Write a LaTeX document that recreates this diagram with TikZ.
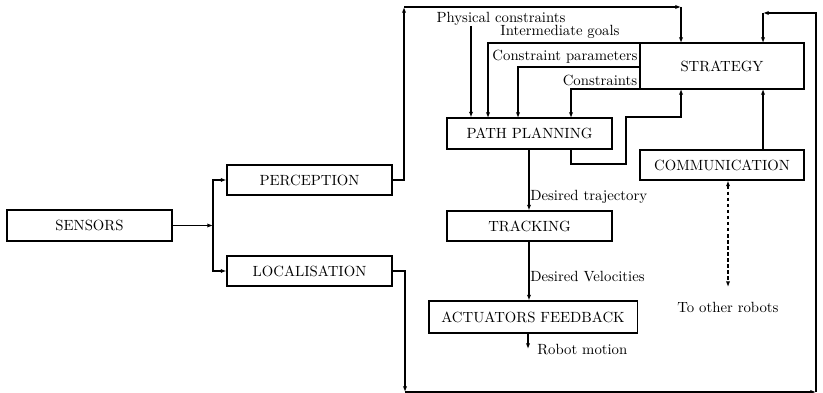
\documentclass[tikz,border=0pt]{standalone}
\usetikzlibrary{arrows.meta}
\begin{document}
\begin{tikzpicture}[x=0.025cm, y=-0.025cm,
  every node/.style={font=\fontsize{10.5pt}{12.6pt}\selectfont},
  box/.style={draw, line width=0.75pt, inner sep=0pt, rectangle},
  size/.style 2 args={minimum width=#1*0.7113pt, minimum height=#2*0.7113pt},
  conn/.style={line width=0.75pt},
  arr/.style={conn, -{Latex[length=4pt,width=3pt]}},
  lbl/.style={inner sep=0pt}]
\useasboundingbox (0,0) rectangle (823,393);

% blocks
\node[box, size={165}{31}] (sens) at (89.5,225.5) {SENSORS\hspace{19pt}};
\node[box, size={165}{30}] (perc) at (309.5,180) {PERCEPTION};
\node[box, size={165}{30}] (loc)  at (309.5,271) {LOCALISATION};
\node[box, size={164}{46}] (strat) at (722,66) {\raisebox{-5pt}{STRATEGY}};
\node[box, size={165}{31}] (pp) at (529.5,133.5) {PATH PLANNING};
\node[box, size={164}{30}] (comm) at (722,165) {COMMUNICATION};
\node[box, size={165}{30}] (track) at (529.5,226) {TRACKING};
\node[box, size={208}{32}] (act) at (533,317) {ACTUATORS FEEDBACK};

% free ends and corners
\coordinate (split) at (213,225.5);
\coordinate (pctop) at (471,26);
\coordinate (motion) at (528,349);
\coordinate (commlow) at (728,287);

% sensors to perception and localisation
\draw[arr] (sens.east) -- (split);
\draw[arr] (split) |- (perc.west);
\draw[arr] (split) |- (loc.west);

% perception up and over to the strategy
\draw[arr] (perc.east) -- (404,180) -- (404,7);
\draw[arr] (404,7) -- (681,7);
\draw[arr] (681,7) -- (681,43);

% localisation down, round and into the strategy from above
\draw[arr] (loc.east) -- (405,271) -- (405,392);
\draw[arr] (405,392) -- (816,392);
\draw[arr] (816,392) -- (816,13) -- (763,13);
\draw[arr] (763,13) -- (763,43);

% inputs of the path planning
\draw[arr] (pctop) -- (pctop |- pp.north);
\node[lbl] (physlbl) at (501,19) {Physical constraints};
\draw[arr] (640,43) -- (488,43) -- (488,118);
\node[lbl] (goallbl) at (560,32) {Intermediate goals};
\draw[arr] (640,67) -- (518,67) -- (518,118);
\node[lbl] (parlbl) at (565,57) {Constraint parameters};
\draw[arr] (640,89) -- (571,89) -- (571,118);
\node[lbl] (conlbl) at (600,80) {Constraints};

% path planning back to the strategy
\draw[arr] (571,149) -- (571,164) -- (626,164) -- (626,117) -- (681,117) -- (681,89);

% communication to the strategy
\draw[arr] (comm.north -| 763,0) -- (763,89);

% chain down to the actuators
\draw[arr] (pp.south -| 529,0) -- (track.north -| 529,0);
\node[lbl, anchor=west] (trajlbl) at (530,197) {Desired trajectory};
\draw[arr] (track.south -| 529,0) -- (act.north -| 529,0);
\node[lbl, anchor=west] (vellbl) at (530,277) {Desired Velocities};
\draw[arr] (act.south -| motion) -- (motion);
\node[lbl, anchor=west] (motlbl) at (537,350) {Robot motion};

% link to the other robots
\draw[conn, dash pattern=on 2.5pt off 1.8pt, {Latex[length=4pt,width=3pt]}-{Latex[length=4pt,width=3pt]}]
  (comm.south -| commlow) -- (commlow);
\node[lbl] (otherlbl) at (728,307) {To other robots};
\end{tikzpicture}
\end{document}
